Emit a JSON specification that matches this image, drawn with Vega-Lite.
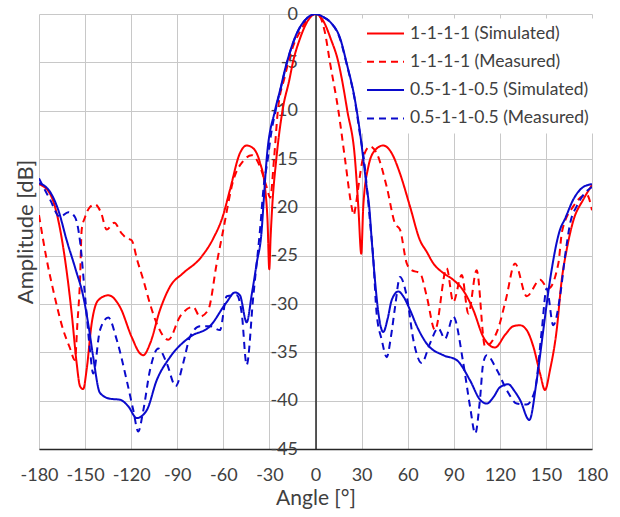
{
  "$schema": "https://vega.github.io/schema/vega-lite/v6.json",
  "width": 553,
  "height": 435,
  "autosize": {"type": "none"},
  "padding": {"left": 39, "top": 14, "right": 28, "bottom": 68},
  "background": "white",
  "config": {"view": {"stroke": null}, "font": "Lato"},
  "data": {"values": [
    {"series":"1-1-1-1 (Simulated)","angle":-180,"dB":-17.6},{"series":"1-1-1-1 (Simulated)","angle":-172.8,"dB":-18.6},{"series":"1-1-1-1 (Simulated)","angle":-168.5,"dB":-20.6},{"series":"1-1-1-1 (Simulated)","angle":-165,"dB":-23.4},{"series":"1-1-1-1 (Simulated)","angle":-158.7,"dB":-31},{"series":"1-1-1-1 (Simulated)","angle":-155.5,"dB":-36.1},{"series":"1-1-1-1 (Simulated)","angle":-153.3,"dB":-38.5},{"series":"1-1-1-1 (Simulated)","angle":-151.2,"dB":-38.8},{"series":"1-1-1-1 (Simulated)","angle":-149,"dB":-36.8},{"series":"1-1-1-1 (Simulated)","angle":-145.7,"dB":-32},{"series":"1-1-1-1 (Simulated)","angle":-141.4,"dB":-29.6},{"series":"1-1-1-1 (Simulated)","angle":-134.9,"dB":-29.1},{"series":"1-1-1-1 (Simulated)","angle":-127.3,"dB":-30.3},{"series":"1-1-1-1 (Simulated)","angle":-119.7,"dB":-33.4},{"series":"1-1-1-1 (Simulated)","angle":-114.3,"dB":-35.1},{"series":"1-1-1-1 (Simulated)","angle":-112.1,"dB":-35.3},{"series":"1-1-1-1 (Simulated)","angle":-107.7,"dB":-34.1},{"series":"1-1-1-1 (Simulated)","angle":-101.2,"dB":-30.6},{"series":"1-1-1-1 (Simulated)","angle":-94.7,"dB":-28.2},{"series":"1-1-1-1 (Simulated)","angle":-86.1,"dB":-26.8},{"series":"1-1-1-1 (Simulated)","angle":-75.2,"dB":-25.3},{"series":"1-1-1-1 (Simulated)","angle":-66.5,"dB":-23.2},{"series":"1-1-1-1 (Simulated)","angle":-60.5,"dB":-21},{"series":"1-1-1-1 (Simulated)","angle":-55.7,"dB":-18.2},{"series":"1-1-1-1 (Simulated)","angle":-49.2,"dB":-14.4},{"series":"1-1-1-1 (Simulated)","angle":-44.8,"dB":-13.6},{"series":"1-1-1-1 (Simulated)","angle":-40.5,"dB":-13.9},{"series":"1-1-1-1 (Simulated)","angle":-36.1,"dB":-15.4},{"series":"1-1-1-1 (Simulated)","angle":-32.9,"dB":-17.9},{"series":"1-1-1-1 (Simulated)","angle":-31.2,"dB":-21.5},{"series":"1-1-1-1 (Simulated)","angle":-30.1,"dB":-26.4},{"series":"1-1-1-1 (Simulated)","angle":-29.2,"dB":-23},{"series":"1-1-1-1 (Simulated)","angle":-28.2,"dB":-20},{"series":"1-1-1-1 (Simulated)","angle":-25.5,"dB":-15},{"series":"1-1-1-1 (Simulated)","angle":-21.5,"dB":-10},{"series":"1-1-1-1 (Simulated)","angle":-17,"dB":-6.8},{"series":"1-1-1-1 (Simulated)","angle":-14.7,"dB":-5},{"series":"1-1-1-1 (Simulated)","angle":-10,"dB":-2.5},{"series":"1-1-1-1 (Simulated)","angle":-5,"dB":-0.7},{"series":"1-1-1-1 (Simulated)","angle":0,"dB":0},{"series":"1-1-1-1 (Simulated)","angle":5,"dB":-0.7},{"series":"1-1-1-1 (Simulated)","angle":10,"dB":-2.6},{"series":"1-1-1-1 (Simulated)","angle":14.9,"dB":-5},{"series":"1-1-1-1 (Simulated)","angle":17,"dB":-6.6},{"series":"1-1-1-1 (Simulated)","angle":20.7,"dB":-10},{"series":"1-1-1-1 (Simulated)","angle":25.7,"dB":-15},{"series":"1-1-1-1 (Simulated)","angle":27.9,"dB":-20},{"series":"1-1-1-1 (Simulated)","angle":29.8,"dB":-24.8},{"series":"1-1-1-1 (Simulated)","angle":31.1,"dB":-19.9},{"series":"1-1-1-1 (Simulated)","angle":34.4,"dB":-15.8},{"series":"1-1-1-1 (Simulated)","angle":38.7,"dB":-14.1},{"series":"1-1-1-1 (Simulated)","angle":44.1,"dB":-13.6},{"series":"1-1-1-1 (Simulated)","angle":49.6,"dB":-14.4},{"series":"1-1-1-1 (Simulated)","angle":55,"dB":-16.5},{"series":"1-1-1-1 (Simulated)","angle":61.5,"dB":-19.9},{"series":"1-1-1-1 (Simulated)","angle":68,"dB":-23.4},{"series":"1-1-1-1 (Simulated)","angle":72.4,"dB":-24.6},{"series":"1-1-1-1 (Simulated)","angle":76.7,"dB":-25.8},{"series":"1-1-1-1 (Simulated)","angle":83.2,"dB":-26.8},{"series":"1-1-1-1 (Simulated)","angle":89.7,"dB":-27.5},{"series":"1-1-1-1 (Simulated)","angle":96.2,"dB":-28.6},{"series":"1-1-1-1 (Simulated)","angle":102.7,"dB":-30.6},{"series":"1-1-1-1 (Simulated)","angle":109.2,"dB":-33.4},{"series":"1-1-1-1 (Simulated)","angle":113.6,"dB":-34.3},{"series":"1-1-1-1 (Simulated)","angle":116.9,"dB":-34.5},{"series":"1-1-1-1 (Simulated)","angle":123.4,"dB":-33.2},{"series":"1-1-1-1 (Simulated)","angle":128.8,"dB":-32.3},{"series":"1-1-1-1 (Simulated)","angle":133.1,"dB":-32.2},{"series":"1-1-1-1 (Simulated)","angle":137.5,"dB":-32.7},{"series":"1-1-1-1 (Simulated)","angle":141.8,"dB":-34.4},{"series":"1-1-1-1 (Simulated)","angle":146.2,"dB":-37.2},{"series":"1-1-1-1 (Simulated)","angle":149.4,"dB":-38.9},{"series":"1-1-1-1 (Simulated)","angle":152.7,"dB":-36.8},{"series":"1-1-1-1 (Simulated)","angle":157,"dB":-32.7},{"series":"1-1-1-1 (Simulated)","angle":160.3,"dB":-27.5},{"series":"1-1-1-1 (Simulated)","angle":163.5,"dB":-24.4},{"series":"1-1-1-1 (Simulated)","angle":167.8,"dB":-21.4},{"series":"1-1-1-1 (Simulated)","angle":174.3,"dB":-19.2},{"series":"1-1-1-1 (Simulated)","angle":180,"dB":-17.7},

    {"series":"1-1-1-1 (Measured)","angle":-180,"dB":-20.8},{"series":"1-1-1-1 (Measured)","angle":-175,"dB":-25.4},{"series":"1-1-1-1 (Measured)","angle":-170.7,"dB":-28.6},{"series":"1-1-1-1 (Measured)","angle":-164.2,"dB":-32.7},{"series":"1-1-1-1 (Measured)","angle":-160,"dB":-34.5},{"series":"1-1-1-1 (Measured)","angle":-156.6,"dB":-35.8},{"series":"1-1-1-1 (Measured)","angle":-155,"dB":-32},{"series":"1-1-1-1 (Measured)","angle":-153.3,"dB":-27.5},{"series":"1-1-1-1 (Measured)","angle":-152.2,"dB":-22.3},{"series":"1-1-1-1 (Measured)","angle":-150,"dB":-21},{"series":"1-1-1-1 (Measured)","angle":-147,"dB":-20},{"series":"1-1-1-1 (Measured)","angle":-143.5,"dB":-19.7},{"series":"1-1-1-1 (Measured)","angle":-139.5,"dB":-20.6},{"series":"1-1-1-1 (Measured)","angle":-136,"dB":-22.3},{"series":"1-1-1-1 (Measured)","angle":-131,"dB":-21.6},{"series":"1-1-1-1 (Measured)","angle":-126.2,"dB":-22.7},{"series":"1-1-1-1 (Measured)","angle":-122.9,"dB":-23.2},{"series":"1-1-1-1 (Measured)","angle":-119.7,"dB":-23.4},{"series":"1-1-1-1 (Measured)","angle":-116,"dB":-25.5},{"series":"1-1-1-1 (Measured)","angle":-112.1,"dB":-27.5},{"series":"1-1-1-1 (Measured)","angle":-107.7,"dB":-30},{"series":"1-1-1-1 (Measured)","angle":-103.4,"dB":-32},{"series":"1-1-1-1 (Measured)","angle":-95.8,"dB":-33.7},{"series":"1-1-1-1 (Measured)","angle":-88.2,"dB":-31.3},{"series":"1-1-1-1 (Measured)","angle":-79.6,"dB":-30.3},{"series":"1-1-1-1 (Measured)","angle":-75.2,"dB":-31.3},{"series":"1-1-1-1 (Measured)","angle":-69.8,"dB":-30.6},{"series":"1-1-1-1 (Measured)","angle":-64.3,"dB":-25.8},{"series":"1-1-1-1 (Measured)","angle":-60,"dB":-22.3},{"series":"1-1-1-1 (Measured)","angle":-53.5,"dB":-17.2},{"series":"1-1-1-1 (Measured)","angle":-47,"dB":-15.2},{"series":"1-1-1-1 (Measured)","angle":-41.5,"dB":-14.6},{"series":"1-1-1-1 (Measured)","angle":-36.1,"dB":-15.8},{"series":"1-1-1-1 (Measured)","angle":-31.8,"dB":-17.9},{"series":"1-1-1-1 (Measured)","angle":-29.5,"dB":-19},{"series":"1-1-1-1 (Measured)","angle":-27,"dB":-15},{"series":"1-1-1-1 (Measured)","angle":-24.5,"dB":-10},{"series":"1-1-1-1 (Measured)","angle":-20,"dB":-6.5},{"series":"1-1-1-1 (Measured)","angle":-14.5,"dB":-3.3},{"series":"1-1-1-1 (Measured)","angle":-10,"dB":-1.8},{"series":"1-1-1-1 (Measured)","angle":-4,"dB":-0.3},{"series":"1-1-1-1 (Measured)","angle":0,"dB":0},{"series":"1-1-1-1 (Measured)","angle":3,"dB":-0.3},{"series":"1-1-1-1 (Measured)","angle":6,"dB":-1.8},{"series":"1-1-1-1 (Measured)","angle":9.4,"dB":-5},{"series":"1-1-1-1 (Measured)","angle":14.9,"dB":-10},{"series":"1-1-1-1 (Measured)","angle":19.2,"dB":-15},{"series":"1-1-1-1 (Measured)","angle":23.6,"dB":-20},{"series":"1-1-1-1 (Measured)","angle":24.8,"dB":-20.8},{"series":"1-1-1-1 (Measured)","angle":26.5,"dB":-19.5},{"series":"1-1-1-1 (Measured)","angle":27.9,"dB":-17.9},{"series":"1-1-1-1 (Measured)","angle":31.1,"dB":-14.8},{"series":"1-1-1-1 (Measured)","angle":35.5,"dB":-13.7},{"series":"1-1-1-1 (Measured)","angle":39.8,"dB":-14.4},{"series":"1-1-1-1 (Measured)","angle":46.4,"dB":-17.9},{"series":"1-1-1-1 (Measured)","angle":51.8,"dB":-21.7},{"series":"1-1-1-1 (Measured)","angle":55,"dB":-22.3},{"series":"1-1-1-1 (Measured)","angle":59.4,"dB":-25.8},{"series":"1-1-1-1 (Measured)","angle":62.6,"dB":-26.5},{"series":"1-1-1-1 (Measured)","angle":68,"dB":-26.8},{"series":"1-1-1-1 (Measured)","angle":72.4,"dB":-29.2},{"series":"1-1-1-1 (Measured)","angle":77.8,"dB":-32.7},{"series":"1-1-1-1 (Measured)","angle":85.4,"dB":-26.3},{"series":"1-1-1-1 (Measured)","angle":89.7,"dB":-29.8},{"series":"1-1-1-1 (Measured)","angle":95.2,"dB":-27},{"series":"1-1-1-1 (Measured)","angle":99.5,"dB":-31},{"series":"1-1-1-1 (Measured)","angle":104.9,"dB":-26.5},{"series":"1-1-1-1 (Measured)","angle":110.4,"dB":-34.4},{"series":"1-1-1-1 (Measured)","angle":119,"dB":-32.5},{"series":"1-1-1-1 (Measured)","angle":124,"dB":-29.5},{"series":"1-1-1-1 (Measured)","angle":129.9,"dB":-25.8},{"series":"1-1-1-1 (Measured)","angle":137.5,"dB":-29.2},{"series":"1-1-1-1 (Measured)","angle":146.2,"dB":-27.5},{"series":"1-1-1-1 (Measured)","angle":151.6,"dB":-28.4},{"series":"1-1-1-1 (Measured)","angle":158.1,"dB":-25.8},{"series":"1-1-1-1 (Measured)","angle":160.5,"dB":-22.5},{"series":"1-1-1-1 (Measured)","angle":167.8,"dB":-19.9},{"series":"1-1-1-1 (Measured)","angle":176.6,"dB":-18.7},{"series":"1-1-1-1 (Measured)","angle":180,"dB":-20.3},

    {"series":"0.5-1-1-0.5 (Simulated)","angle":-180,"dB":-17.5},{"series":"0.5-1-1-0.5 (Simulated)","angle":-172.8,"dB":-18.4},{"series":"0.5-1-1-0.5 (Simulated)","angle":-167.4,"dB":-20.3},{"series":"0.5-1-1-0.5 (Simulated)","angle":-162,"dB":-23.4},{"series":"0.5-1-1-0.5 (Simulated)","angle":-156,"dB":-26.5},{"series":"0.5-1-1-0.5 (Simulated)","angle":-151.2,"dB":-29.2},{"series":"0.5-1-1-0.5 (Simulated)","angle":-147.5,"dB":-32.5},{"series":"0.5-1-1-0.5 (Simulated)","angle":-144.7,"dB":-35.5},{"series":"0.5-1-1-0.5 (Simulated)","angle":-140.3,"dB":-39.2},{"series":"0.5-1-1-0.5 (Simulated)","angle":-133.8,"dB":-39.8},{"series":"0.5-1-1-0.5 (Simulated)","angle":-127.3,"dB":-39.9},{"series":"0.5-1-1-0.5 (Simulated)","angle":-121.8,"dB":-40.6},{"series":"0.5-1-1-0.5 (Simulated)","angle":-116.4,"dB":-41.8},{"series":"0.5-1-1-0.5 (Simulated)","angle":-109.9,"dB":-41},{"series":"0.5-1-1-0.5 (Simulated)","angle":-103.4,"dB":-37.9},{"series":"0.5-1-1-0.5 (Simulated)","angle":-94.7,"dB":-35.5},{"series":"0.5-1-1-0.5 (Simulated)","angle":-81.7,"dB":-33.4},{"series":"0.5-1-1-0.5 (Simulated)","angle":-68.7,"dB":-32.3},{"series":"0.5-1-1-0.5 (Simulated)","angle":-57.8,"dB":-29.8},{"series":"0.5-1-1-0.5 (Simulated)","angle":-52.4,"dB":-28.8},{"series":"0.5-1-1-0.5 (Simulated)","angle":-49.2,"dB":-29.1},{"series":"0.5-1-1-0.5 (Simulated)","angle":-44.8,"dB":-31.9},{"series":"0.5-1-1-0.5 (Simulated)","angle":-41.5,"dB":-29},{"series":"0.5-1-1-0.5 (Simulated)","angle":-38.3,"dB":-25.8},{"series":"0.5-1-1-0.5 (Simulated)","angle":-35,"dB":-22.3},{"series":"0.5-1-1-0.5 (Simulated)","angle":-34,"dB":-20},{"series":"0.5-1-1-0.5 (Simulated)","angle":-31.8,"dB":-15},{"series":"0.5-1-1-0.5 (Simulated)","angle":-26.4,"dB":-10},{"series":"0.5-1-1-0.5 (Simulated)","angle":-23.1,"dB":-7.9},{"series":"0.5-1-1-0.5 (Simulated)","angle":-18.8,"dB":-5.1},{"series":"0.5-1-1-0.5 (Simulated)","angle":-12.2,"dB":-2},{"series":"0.5-1-1-0.5 (Simulated)","angle":-6,"dB":-0.5},{"series":"0.5-1-1-0.5 (Simulated)","angle":0,"dB":0},{"series":"0.5-1-1-0.5 (Simulated)","angle":6,"dB":-0.4},{"series":"0.5-1-1-0.5 (Simulated)","angle":10,"dB":-0.9},{"series":"0.5-1-1-0.5 (Simulated)","angle":16,"dB":-2.5},{"series":"0.5-1-1-0.5 (Simulated)","angle":20.3,"dB":-5.1},{"series":"0.5-1-1-0.5 (Simulated)","angle":25.7,"dB":-8.9},{"series":"0.5-1-1-0.5 (Simulated)","angle":29,"dB":-12.3},{"series":"0.5-1-1-0.5 (Simulated)","angle":31.5,"dB":-15.5},{"series":"0.5-1-1-0.5 (Simulated)","angle":33.3,"dB":-17.9},{"series":"0.5-1-1-0.5 (Simulated)","angle":35,"dB":-20},{"series":"0.5-1-1-0.5 (Simulated)","angle":36.6,"dB":-23.4},{"series":"0.5-1-1-0.5 (Simulated)","angle":38.7,"dB":-27.5},{"series":"0.5-1-1-0.5 (Simulated)","angle":41,"dB":-31},{"series":"0.5-1-1-0.5 (Simulated)","angle":44.1,"dB":-32.9},{"series":"0.5-1-1-0.5 (Simulated)","angle":47,"dB":-31.5},{"series":"0.5-1-1-0.5 (Simulated)","angle":49.6,"dB":-29.6},{"series":"0.5-1-1-0.5 (Simulated)","angle":53.9,"dB":-28.7},{"series":"0.5-1-1-0.5 (Simulated)","angle":57.5,"dB":-29.3},{"series":"0.5-1-1-0.5 (Simulated)","angle":61.5,"dB":-30.6},{"series":"0.5-1-1-0.5 (Simulated)","angle":66,"dB":-32.3},{"series":"0.5-1-1-0.5 (Simulated)","angle":72.4,"dB":-34.1},{"series":"0.5-1-1-0.5 (Simulated)","angle":83.2,"dB":-35.3},{"series":"0.5-1-1-0.5 (Simulated)","angle":91.9,"dB":-35.8},{"series":"0.5-1-1-0.5 (Simulated)","angle":100.6,"dB":-37.9},{"series":"0.5-1-1-0.5 (Simulated)","angle":107.1,"dB":-39.9},{"series":"0.5-1-1-0.5 (Simulated)","angle":111.5,"dB":-40.3},{"series":"0.5-1-1-0.5 (Simulated)","angle":116,"dB":-39.6},{"series":"0.5-1-1-0.5 (Simulated)","angle":120.1,"dB":-38.6},{"series":"0.5-1-1-0.5 (Simulated)","angle":125.5,"dB":-38.3},{"series":"0.5-1-1-0.5 (Simulated)","angle":129.5,"dB":-39},{"series":"0.5-1-1-0.5 (Simulated)","angle":133.1,"dB":-39.9},{"series":"0.5-1-1-0.5 (Simulated)","angle":139.2,"dB":-42},{"series":"0.5-1-1-0.5 (Simulated)","angle":144,"dB":-37.9},{"series":"0.5-1-1-0.5 (Simulated)","angle":148.3,"dB":-32.7},{"series":"0.5-1-1-0.5 (Simulated)","angle":152.7,"dB":-27.5},{"series":"0.5-1-1-0.5 (Simulated)","angle":159.2,"dB":-22.3},{"series":"0.5-1-1-0.5 (Simulated)","angle":162.4,"dB":-21.2},{"series":"0.5-1-1-0.5 (Simulated)","angle":167.8,"dB":-19.2},{"series":"0.5-1-1-0.5 (Simulated)","angle":174.3,"dB":-17.9},{"series":"0.5-1-1-0.5 (Simulated)","angle":180,"dB":-17.6},

    {"series":"0.5-1-1-0.5 (Measured)","angle":-180,"dB":-17},{"series":"0.5-1-1-0.5 (Measured)","angle":-172.8,"dB":-19.2},{"series":"0.5-1-1-0.5 (Measured)","angle":-166.3,"dB":-21},{"series":"0.5-1-1-0.5 (Measured)","angle":-160.9,"dB":-20.5},{"series":"0.5-1-1-0.5 (Measured)","angle":-156.6,"dB":-21},{"series":"0.5-1-1-0.5 (Measured)","angle":-153.3,"dB":-23.5},{"series":"0.5-1-1-0.5 (Measured)","angle":-150,"dB":-29.2},{"series":"0.5-1-1-0.5 (Measured)","angle":-146.8,"dB":-34.8},{"series":"0.5-1-1-0.5 (Measured)","angle":-144.7,"dB":-37.2},{"series":"0.5-1-1-0.5 (Measured)","angle":-140.3,"dB":-32.7},{"series":"0.5-1-1-0.5 (Measured)","angle":-134.9,"dB":-31.4},{"series":"0.5-1-1-0.5 (Measured)","angle":-129.4,"dB":-33.7},{"series":"0.5-1-1-0.5 (Measured)","angle":-122.9,"dB":-37.9},{"series":"0.5-1-1-0.5 (Measured)","angle":-118.6,"dB":-41},{"series":"0.5-1-1-0.5 (Measured)","angle":-115.4,"dB":-43.2},{"series":"0.5-1-1-0.5 (Measured)","angle":-112.1,"dB":-41},{"series":"0.5-1-1-0.5 (Measured)","angle":-107.7,"dB":-36.8},{"series":"0.5-1-1-0.5 (Measured)","angle":-102.3,"dB":-34.6},{"series":"0.5-1-1-0.5 (Measured)","angle":-96.9,"dB":-36.1},{"series":"0.5-1-1-0.5 (Measured)","angle":-91,"dB":-38.5},{"series":"0.5-1-1-0.5 (Measured)","angle":-86.1,"dB":-36.1},{"series":"0.5-1-1-0.5 (Measured)","angle":-81.7,"dB":-33.4},{"series":"0.5-1-1-0.5 (Measured)","angle":-75.2,"dB":-32.3},{"series":"0.5-1-1-0.5 (Measured)","angle":-68.7,"dB":-32.3},{"series":"0.5-1-1-0.5 (Measured)","angle":-62.2,"dB":-32.7},{"series":"0.5-1-1-0.5 (Measured)","angle":-57.8,"dB":-29.2},{"series":"0.5-1-1-0.5 (Measured)","angle":-51.3,"dB":-29.1},{"series":"0.5-1-1-0.5 (Measured)","angle":-48,"dB":-31},{"series":"0.5-1-1-0.5 (Measured)","angle":-44.8,"dB":-36.3},{"series":"0.5-1-1-0.5 (Measured)","angle":-40.5,"dB":-29.2},{"series":"0.5-1-1-0.5 (Measured)","angle":-36.1,"dB":-22.3},{"series":"0.5-1-1-0.5 (Measured)","angle":-33.5,"dB":-17.5},{"series":"0.5-1-1-0.5 (Measured)","angle":-31.5,"dB":-15.5},{"series":"0.5-1-1-0.5 (Measured)","angle":-29,"dB":-12.5},{"series":"0.5-1-1-0.5 (Measured)","angle":-26,"dB":-10},{"series":"0.5-1-1-0.5 (Measured)","angle":-22,"dB":-7.3},{"series":"0.5-1-1-0.5 (Measured)","angle":-18.5,"dB":-5},{"series":"0.5-1-1-0.5 (Measured)","angle":-12,"dB":-2},{"series":"0.5-1-1-0.5 (Measured)","angle":-6,"dB":-0.5},{"series":"0.5-1-1-0.5 (Measured)","angle":0,"dB":0},{"series":"0.5-1-1-0.5 (Measured)","angle":6,"dB":-0.4},{"series":"0.5-1-1-0.5 (Measured)","angle":10,"dB":-0.9},{"series":"0.5-1-1-0.5 (Measured)","angle":16,"dB":-2.6},{"series":"0.5-1-1-0.5 (Measured)","angle":20.3,"dB":-5.2},{"series":"0.5-1-1-0.5 (Measured)","angle":25.7,"dB":-9},{"series":"0.5-1-1-0.5 (Measured)","angle":29,"dB":-12.5},{"series":"0.5-1-1-0.5 (Measured)","angle":31.5,"dB":-15},{"series":"0.5-1-1-0.5 (Measured)","angle":33.5,"dB":-18},{"series":"0.5-1-1-0.5 (Measured)","angle":35.5,"dB":-21.5},{"series":"0.5-1-1-0.5 (Measured)","angle":37.5,"dB":-25},{"series":"0.5-1-1-0.5 (Measured)","angle":39.8,"dB":-31},{"series":"0.5-1-1-0.5 (Measured)","angle":43.1,"dB":-33.7},{"series":"0.5-1-1-0.5 (Measured)","angle":46.4,"dB":-35.5},{"series":"0.5-1-1-0.5 (Measured)","angle":49,"dB":-33.5},{"series":"0.5-1-1-0.5 (Measured)","angle":51.8,"dB":-30.3},{"series":"0.5-1-1-0.5 (Measured)","angle":55,"dB":-27.2},{"series":"0.5-1-1-0.5 (Measured)","angle":59.4,"dB":-29.2},{"series":"0.5-1-1-0.5 (Measured)","angle":63.7,"dB":-33.7},{"series":"0.5-1-1-0.5 (Measured)","angle":69.1,"dB":-36.1},{"series":"0.5-1-1-0.5 (Measured)","angle":74.5,"dB":-34.1},{"series":"0.5-1-1-0.5 (Measured)","angle":79.9,"dB":-32.5},{"series":"0.5-1-1-0.5 (Measured)","angle":84.3,"dB":-33.6},{"series":"0.5-1-1-0.5 (Measured)","angle":89.7,"dB":-31.3},{"series":"0.5-1-1-0.5 (Measured)","angle":96.2,"dB":-36.1},{"series":"0.5-1-1-0.5 (Measured)","angle":100.6,"dB":-40.6},{"series":"0.5-1-1-0.5 (Measured)","angle":104,"dB":-43.4},{"series":"0.5-1-1-0.5 (Measured)","angle":107,"dB":-40},{"series":"0.5-1-1-0.5 (Measured)","angle":109.2,"dB":-36.1},{"series":"0.5-1-1-0.5 (Measured)","angle":111.5,"dB":-35.3},{"series":"0.5-1-1-0.5 (Measured)","angle":118,"dB":-36.8},{"series":"0.5-1-1-0.5 (Measured)","angle":124.5,"dB":-38.9},{"series":"0.5-1-1-0.5 (Measured)","angle":131,"dB":-40.3},{"series":"0.5-1-1-0.5 (Measured)","angle":137.5,"dB":-40.4},{"series":"0.5-1-1-0.5 (Measured)","angle":142.9,"dB":-38.9},{"series":"0.5-1-1-0.5 (Measured)","angle":147.3,"dB":-32.7},{"series":"0.5-1-1-0.5 (Measured)","angle":150.5,"dB":-28.4},{"series":"0.5-1-1-0.5 (Measured)","angle":154.8,"dB":-32.2},{"series":"0.5-1-1-0.5 (Measured)","angle":159.2,"dB":-29.2},{"series":"0.5-1-1-0.5 (Measured)","angle":162.5,"dB":-25},{"series":"0.5-1-1-0.5 (Measured)","angle":166,"dB":-21.5},{"series":"0.5-1-1-0.5 (Measured)","angle":170,"dB":-19.9},{"series":"0.5-1-1-0.5 (Measured)","angle":175.5,"dB":-18.5},{"series":"0.5-1-1-0.5 (Measured)","angle":180,"dB":-17.9}
  ]},
  "mark": {"type": "line", "interpolate": "monotone", "strokeWidth": 2, "clip": true},
  "encoding": {
    "x": {
      "field": "angle", "type": "quantitative",
      "scale": {"domain": [-180, 180], "nice": false},
      "axis": {
        "values": [-180, -150, -120, -90, -60, -30, 0, 30, 60, 90, 120, 150, 180],
        "labelExpr": "toString(datum.value)",
        "title": "Angle [°]", "titleFontSize": 21, "titleFontWeight": "normal", "titleColor": "#404040", "titlePadding": 3,
        "labelFontSize": 18, "labelColor": "#404040", "labelFlush": false, "labelOverlap": false,
        "tickSize": 0, "labelPadding": 17,
        "domainColor": "#262626", "domainWidth": 1.5,
        "grid": true, "gridColor": "#c8c8c8", "gridWidth": 1
      }
    },
    "y": {
      "field": "dB", "type": "quantitative",
      "scale": {"domain": [-45, 0], "nice": false, "zero": false},
      "axis": {
        "orient": "left", "offset": -276.5,
        "values": [-45, -40, -35, -30, -25, -20, -15, -10, -5, 0],
        "labelExpr": "toString(datum.value)",
        "title": "Amplitude [dB]", "titleFontSize": 22, "titleFontWeight": "normal", "titleColor": "#404040",
        "titleX": -290, "titleY": 217.5, "titleAngle": -90, "titleAlign": "center", "titleBaseline": "middle",
        "labelFontSize": 18, "labelColor": "#404040", "labelFlush": false, "labelOverlap": false,
        "tickSize": 0, "labelPadding": 18,
        "domainColor": "#262626", "domainWidth": 1.5,
        "grid": true, "gridColor": "#c8c8c8", "gridWidth": 1
      }
    },
    "color": {
      "field": "series", "type": "nominal",
      "scale": {"domain": ["1-1-1-1 (Simulated)", "1-1-1-1 (Measured)", "0.5-1-1-0.5 (Simulated)", "0.5-1-1-0.5 (Measured)"], "range": ["#FF0000", "#FF0000", "#0A0ACC", "#0A0ACC"]},
      "legend": {"title": null, "orient": "none", "legendX": 322.5, "legendY": 4.5, "fillColor": "white", "padding": 4.5, "symbolType": "stroke", "symbolSize": 1369, "symbolStrokeWidth": 2, "clipHeight": 21, "labelFontSize": 17.5, "labelColor": "#404040", "labelOffset": 5, "rowPadding": 7.3, "labelLimit": 400}
    },
    "strokeDash": {
      "field": "series", "type": "nominal",
      "scale": {"domain": ["1-1-1-1 (Simulated)", "1-1-1-1 (Measured)", "0.5-1-1-0.5 (Simulated)", "0.5-1-1-0.5 (Measured)"], "range": [[1, 0], [7, 5], [1, 0], [7, 5]]},
      "legend": {"title": null, "orient": "none", "legendX": 322.5, "legendY": 4.5, "fillColor": "white", "padding": 4.5, "symbolType": "stroke", "symbolSize": 1369, "symbolStrokeWidth": 2, "clipHeight": 21, "labelFontSize": 17.5, "labelColor": "#404040", "labelOffset": 5, "rowPadding": 7.3, "labelLimit": 400}
    }
  }
}
